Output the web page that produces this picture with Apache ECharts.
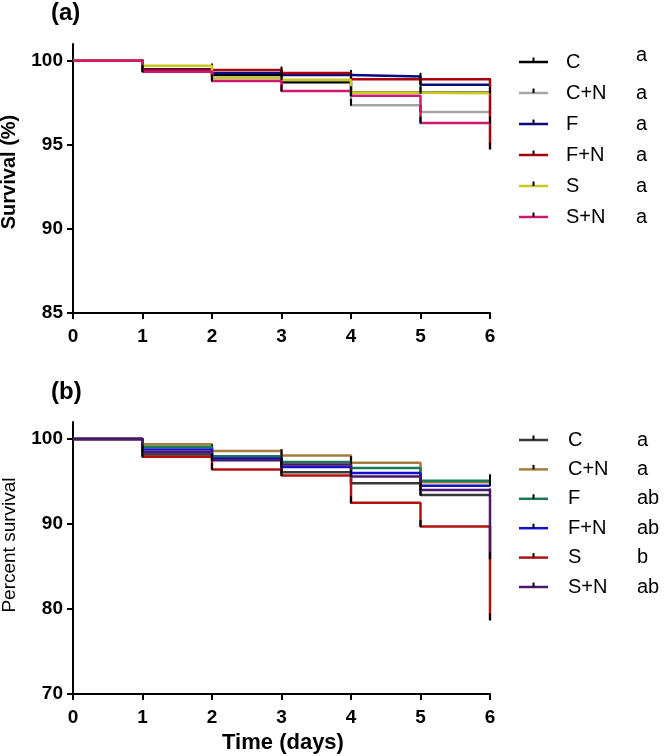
<!DOCTYPE html>
<html>
<head>
<meta charset="utf-8">
<script src="https://cdn.jsdelivr.net/npm/echarts@6/dist/echarts.min.js"></script>
<style>
html,body{margin:0;padding:0;background:#fff;}
#chart{width:666px;height:756px;}
</style>
</head>
<body>
<div id="chart"></div>
<script>
// ---- Data ----
var days = [0, 1, 2, 3, 4, 5, 6];
var xTicks = [0, 1, 2, 3, 4, 5, 6];

// Panel (a)
var namesA = ['C', 'C+N', 'F', 'F+N', 'S', 'S+N'];
var lettersA = ['a', 'a', 'a', 'a', 'a', 'a'];
var colorsA = ['#000000', '#a6a6a6', '#0a0a80', '#a8000e', '#c8c81e', '#d0186e'];
var a_C   = [100, 99.50, 99.15, 98.73, 98.10, 98.10, 98.10];
var a_CN  = [100, 99.50, 98.97, 98.85, 97.35, 96.96, 96.96];
var a_F   = [100, 99.50, 99.27, 99.15, 99.07, 98.57, 98.57];
var a_FN  = [100, 99.45, 99.45, 99.27, 98.90, 98.90, 94.75];
var a_S   = [100, 99.70, 99.00, 98.87, 98.10, 98.07, 98.07];
var a_SN  = [100, 99.35, 98.80, 98.20, 97.92, 96.30, 96.30];
var yTicksA = [85, 90, 95, 100];

// Panel (b)
var namesB = ['C', 'C+N', 'F', 'F+N', 'S', 'S+N'];
var lettersB = ['a', 'a', 'ab', 'ab', 'b', 'ab'];
var colorsB = ['#383838', '#a57d3c', '#1a7a56', '#1212c8', '#b41212', '#4a1868'];
var b_C   = [100, 98.17, 97.70, 96.10, 94.80, 93.40, 93.40];
var b_CN  = [100, 99.37, 98.60, 98.05, 97.20, 94.90, 94.90];
var b_F   = [100, 99.10, 97.98, 97.30, 96.60, 95.10, 95.10];
var b_FN  = [100, 98.77, 97.70, 96.70, 96.00, 94.50, 94.50];
var b_S   = [100, 97.90, 96.40, 95.70, 92.50, 89.70, 78.70];
var b_SN  = [100, 98.45, 97.50, 97.00, 95.60, 94.00, 85.90];
var yTicksB = [70, 80, 90, 100];

var seriesA = [a_C, a_CN, a_F, a_FN, a_S, a_SN];
var seriesB = [b_C, b_CN, b_F, b_FN, b_S, b_SN];

// ---- Build ----
var FONT = '"Liberation Sans", Arial, sans-serif';
function mkData(vals) {
  return vals.map(function (v, i) {
    var d = { value: [days[i], v] };
    if (i === 0) d.symbol = 'none';
    return d;
  });
}
function mkSeries(arr, names, colors, idx) {
  return arr.map(function (vals, k) {
    return {
      name: names[k] + (idx ? ' ' : ''),
      type: 'line',
      step: 'end',
      xAxisIndex: idx, yAxisIndex: idx,
      data: mkData(vals),
      symbol: 'rect',
      symbolSize: [2, 7],
      symbolOffset: [0, -3],
      itemStyle: { color: '#000' },
      lineStyle: { color: colors[k], width: 2.5 },
      animation: false,
      clip: false,
      z: 2 + k
    };
  });
}
function xAxisCfg(idx) {
  return {
    gridIndex: idx, type: 'value', min: 0, max: 6, interval: 1,
    axisLine: { lineStyle: { color: '#000', width: 2 } },
    axisTick: { length: 6, lineStyle: { color: '#000', width: 2 } },
    axisLabel: { color: '#000', fontFamily: FONT, fontWeight: 'bold', fontSize: 19, margin: 14,
      customValues: xTicks },
    splitLine: { show: false }
  };
}
function yAxisCfg(idx, min, max, ticks) {
  return {
    gridIndex: idx, type: 'value', min: min, max: max,
    axisLine: { show: true, lineStyle: { color: '#000', width: 2 } },
    axisTick: { show: true, length: 6, lineStyle: { color: '#000', width: 2 }, customValues: ticks },
    axisLabel: { color: '#000', fontFamily: FONT, fontWeight: 'bold', fontSize: 19, margin: 10, customValues: ticks },
    splitLine: { show: false }
  };
}
function legendGraphics(names, colors, letters, y0, dy, labelX, letterX, firstLetterDy) {
  var g = [];
  names.forEach(function (n, i) {
    var y = y0 + dy * i;
    g.push({ type: 'line', shape: { x1: 519, y1: y, x2: 548, y2: y }, style: { stroke: colors[i], lineWidth: 2.5 }, z: 10 });
    g.push({ type: 'line', shape: { x1: 533.5, y1: y, x2: 533.5, y2: y - 4.5 }, style: { stroke: '#000', lineWidth: 2 }, z: 11 });
    g.push({ type: 'text', x: labelX, y: y, style: { text: n, fill: '#000', font: '20px ' + FONT, textAlign: 'left', textVerticalAlign: 'middle' }, z: 10 });
    g.push({ type: 'text', x: letterX, y: y + (i === 0 ? firstLetterDy : 0), style: { text: letters[i], fill: '#000', font: '20px ' + FONT, textAlign: 'left', textVerticalAlign: 'middle' }, z: 10 });
  });
  return g;
}

var graphics = [];
graphics.push({ type: 'text', x: 51, y: 13, style: { text: '(a)', fill: '#000', font: 'bold 24px ' + FONT, textAlign: 'left', textVerticalAlign: 'middle' } });
graphics.push({ type: 'text', x: 51, y: 392, style: { text: '(b)', fill: '#000', font: 'bold 24px ' + FONT, textAlign: 'left', textVerticalAlign: 'middle' } });
graphics.push({ type: 'text', x: 9, y: 172, rotation: Math.PI / 2, style: { text: 'Survival (%)', fill: '#000', font: 'bold 20px ' + FONT, textAlign: 'center', textVerticalAlign: 'middle' } });
graphics.push({ type: 'text', x: 10, y: 545, rotation: Math.PI / 2, style: { text: 'Percent survival', fill: '#000', font: '19px ' + FONT, textAlign: 'center', textVerticalAlign: 'middle' } });
graphics.push({ type: 'text', x: 283, y: 743, style: { text: 'Time (days)', fill: '#000', font: 'bold 22px ' + FONT, textAlign: 'center', textVerticalAlign: 'middle' } });
graphics = graphics.concat(legendGraphics(namesA, colorsA, lettersA, 62, 31, 566, 636, -7));
graphics = graphics.concat(legendGraphics(namesB, colorsB, lettersB, 440, 29.4, 568, 637, 0));

var option = {
  backgroundColor: '#fff',
  animation: false,
  grid: [
    { left: 73, top: 44, width: 417, height: 269 },
    { left: 73, top: 422, width: 417, height: 272 }
  ],
  xAxis: [xAxisCfg(0), xAxisCfg(1)],
  yAxis: [yAxisCfg(0, 85, 101, yTicksA), yAxisCfg(1, 70, 102, yTicksB)],
  series: mkSeries(seriesA, namesA, colorsA, 0).concat(mkSeries(seriesB, namesB, colorsB, 1)),
  graphic: graphics
};

var chart = echarts.init(document.getElementById('chart'), null, { renderer: 'canvas' });
chart.setOption(option);
</script>
</body>
</html>
